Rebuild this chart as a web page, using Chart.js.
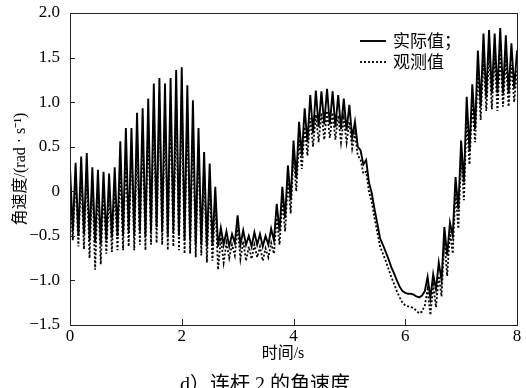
<!DOCTYPE html>
<html>
<head>
<meta charset="utf-8">
<script src="https://cdn.jsdelivr.net/npm/chart.js@4/dist/chart.umd.min.js"></script>
<style>
  html, body { margin: 0; padding: 0; background: #ffffff; }
  #wrap { width: 526px; height: 388px; position: relative; }
</style>
</head>
<body>
<div id="wrap"><canvas id="chart-angular-velocity"></canvas></div>
<script>
// sampling step of the recorded signals (s)
const sampleStep = 0.05;

// 实际值 (actual), one value every 0.05 s from 0 to 8 s
const actualValues = [
  0.27, -0.45, 0.32, -0.50, 0.39, -0.48, 0.43, -0.55, 0.27, -0.58,
  0.24, -0.60, 0.22, -0.55, 0.20, -0.52, 0.27, -0.50, 0.56, -0.50,
  0.71, -0.45, 0.71, -0.50, 0.88, -0.45, 0.93, -0.50, 1.04, -0.45,
  1.21, -0.40, 1.27, -0.45, 1.21, -0.50, 1.27, -0.45, 1.36, -0.50,
  1.39, -0.55, 1.19, -0.55, 1.02, -0.60, 0.71, -0.60, 0.44, -0.62,
  0.31, -0.60, 0.05, -0.62, -0.41, -0.60, -0.45, -0.62, -0.48, -0.58,
  -0.27, -0.60, -0.44, -0.60, -0.50, -0.62, -0.46, -0.60, -0.48, -0.62,
  -0.50, -0.60, -0.42, -0.55, -0.14, -0.45, 0.05, -0.30, 0.29, -0.10,
  0.57, 0.15, 0.78, 0.40, 0.93, 0.55, 1.08, 0.65, 1.13, 0.72,
  1.12, 0.75, 1.15, 0.75, 1.12, 0.72, 1.08, 0.70, 1.04, 0.68,
  0.97, 0.60, 0.78, 0.50, 0.46, 0.30, 0.35, 0.10, -0.02, -0.20,
  -0.36, -0.53, -0.60, -0.68, -0.76, -0.85, -0.92, -1.00, -1.07, -1.12,
  -1.14, -1.15, -1.15, -1.16, -1.18, -1.19, -1.17, -1.12, -0.96, -1.20,
  -0.93, -1.10, -0.80, -1.00, -0.40, -0.72, -0.35, -0.50, 0.16, -0.20,
  0.57, 0.10, 1.06, 0.45, 1.20, 0.70, 1.58, 0.95, 1.77, 1.05,
  1.81, 1.10, 1.77, 1.10, 1.83, 1.10, 1.75, 1.10, 1.66, 1.15,
  1.58
];

// 观测值 (observed), same sampling
const observedValues = [
  0.10, -0.55, 0.15, -0.62, 0.20, -0.65, 0.22, -0.75, 0.10, -0.88,
  0.05, -0.82, 0.02, -0.70, 0.00, -0.68, 0.05, -0.66, 0.30, -0.66,
  0.45, -0.62, 0.50, -0.66, 0.62, -0.60, 0.68, -0.66, 0.78, -0.60,
  0.90, -0.58, 0.95, -0.60, 0.92, -0.66, 0.98, -0.62, 1.05, -0.66,
  1.08, -0.70, 0.90, -0.70, 0.75, -0.74, 0.48, -0.72, 0.25, -0.80,
  0.10, -0.78, -0.12, -0.88, -0.52, -0.80, -0.58, -0.75, -0.60, -0.72,
  -0.40, -0.76, -0.56, -0.78, -0.62, -0.76, -0.60, -0.74, -0.62, -0.78,
  -0.64, -0.74, -0.58, -0.70, -0.30, -0.60, -0.10, -0.45, 0.12, -0.25,
  0.40, 0.00, 0.58, 0.25, 0.72, 0.40, 0.82, 0.50, 0.86, 0.55,
  0.88, 0.58, 0.90, 0.60, 0.88, 0.58, 0.85, 0.55, 0.82, 0.55,
  0.78, 0.48, 0.65, 0.40, 0.36, 0.20, 0.22, 0.00, -0.12, -0.30,
  -0.46, -0.62, -0.70, -0.78, -0.87, -0.96, -1.04, -1.12, -1.19, -1.25,
  -1.28, -1.29, -1.30, -1.31, -1.34, -1.37, -1.35, -1.28, -1.10, -1.39,
  -1.05, -1.30, -0.95, -1.18, -0.55, -0.95, -0.45, -0.70, 0.00, -0.42,
  0.40, -0.10, 0.85, 0.30, 1.00, 0.55, 1.35, 0.80, 1.50, 0.90,
  1.55, 0.92, 1.52, 0.90, 1.55, 0.95, 1.50, 0.95, 1.42, 1.00,
  1.35
];

const xTicks = [0, 2, 4, 6, 8];
const yTicks = [-1.5, -1.0, -0.5, 0, 0.5, 1.0, 1.5, 2.0];
const seriesLabels = ['实际值；', '观测值'];
const xTitle = '时间/s';
const yTitle = '角速度/(rad · s⁻¹)';
const caption = 'd）连杆 2 的角速度';

const toPoints = vals => vals.map((v, i) => ({ x: +(i * sampleStep).toFixed(2), y: v }));

function fmtY(v) {
    if (v === 0) return '0';
    const s = Math.abs(v).toFixed(1);
    return v < 0 ? '\u2212' + s : s;
}

const serif = '"Times New Roman", "Liberation Serif", "Noto Sans CJK SC", serif';

// frame, inward ticks, legend, x title and caption
const decorPlugin = {
    id: 'decor',
    afterDraw(chart) {
        const ctx = chart.ctx;
        const area = chart.chartArea;
        const xs = chart.scales.x, ys = chart.scales.y;
        ctx.save();
        ctx.strokeStyle = '#222';
        ctx.lineWidth = 1;
        ctx.strokeRect(Math.round(area.left) + 0.5, Math.round(area.top) + 0.5,
            Math.round(area.right - area.left), Math.round(area.bottom - area.top));

        ctx.beginPath();
        yTicks.forEach(v => {
            const py = Math.round(ys.getPixelForValue(v)) + 0.5;
            ctx.moveTo(area.left, py);
            ctx.lineTo(area.left + 5, py);
        });
        xTicks.slice(1, -1).forEach(v => {
            const px = Math.round(xs.getPixelForValue(v)) + 0.5;
            ctx.moveTo(px, area.bottom);
            ctx.lineTo(px, area.bottom - 6);
        });
        ctx.stroke();

        // legend
        ctx.fillStyle = '#000';
        ctx.strokeStyle = '#000';
        ctx.font = '17px "Noto Sans CJK SC"';
        ctx.textBaseline = 'middle';
        ctx.textAlign = 'left';
        const lx = 360, ly = [41, 62];
        chart.data.datasets.forEach((ds, i) => {
            ctx.beginPath();
            ctx.lineWidth = ds.borderWidth;
            ctx.setLineDash(ds.borderDash || []);
            ctx.moveTo(lx, ly[i]);
            ctx.lineTo(lx + 26, ly[i]);
            ctx.stroke();
            ctx.setLineDash([]);
            ctx.fillText(seriesLabels[i], lx + 33, ly[i]);
        });

        // x title and caption
        ctx.textAlign = 'center';
        ctx.font = '16px ' + serif;
        ctx.fillText(xTitle, 283, 354);
        ctx.font = '20px ' + serif;
        ctx.fillText(caption, 265, 386);
        ctx.restore();
    }
};

const ctx = document.getElementById('chart-angular-velocity').getContext('2d');
new Chart(ctx, {
    type: 'line',
    data: {
        datasets: [
            {
                label: seriesLabels[0],
                data: toPoints(actualValues),
                borderColor: '#000',
                borderWidth: 1.9,
                pointRadius: 0,
                tension: 0
            },
            {
                label: seriesLabels[1],
                data: toPoints(observedValues),
                borderColor: '#000',
                borderWidth: 1.8,
                borderDash: [2, 2],
                pointRadius: 0,
                tension: 0
            }
        ]
    },
    options: {
        responsive: true,
        maintainAspectRatio: false,
        animation: false,
        layout: { padding: { left: 0, top: 13, right: 9, bottom: 0 } },
        plugins: {
            legend: { display: false },
            tooltip: { enabled: false }
        },
        scales: {
            x: {
                type: 'linear',
                min: 0,
                max: 8,
                grid: { display: false },
                border: { display: false },
                afterFit: scale => { scale.height = 63; },
                afterBuildTicks: scale => { scale.ticks = xTicks.map(v => ({ value: v })); },
                ticks: {
                    color: '#000',
                    padding: -7,
                    maxRotation: 0,
                    font: { family: serif, size: 17 }
                }
            },
            y: {
                min: -1.5,
                max: 2.0,
                grid: { display: false },
                border: { display: false },
                afterFit: scale => { scale.width = 70; },
                afterBuildTicks: scale => { scale.ticks = yTicks.map(v => ({ value: v })); },
                title: {
                    display: true,
                    text: yTitle,
                    color: '#000',
                    font: { family: serif, size: 16 },
                    padding: { top: 11, bottom: 0 }
                },
                ticks: {
                    color: '#000',
                    padding: 2,
                    font: { family: serif, size: 17 },
                    callback: v => fmtY(v)
                }
            }
        }
    },
    plugins: [decorPlugin]
});
</script>
</body>
</html>
